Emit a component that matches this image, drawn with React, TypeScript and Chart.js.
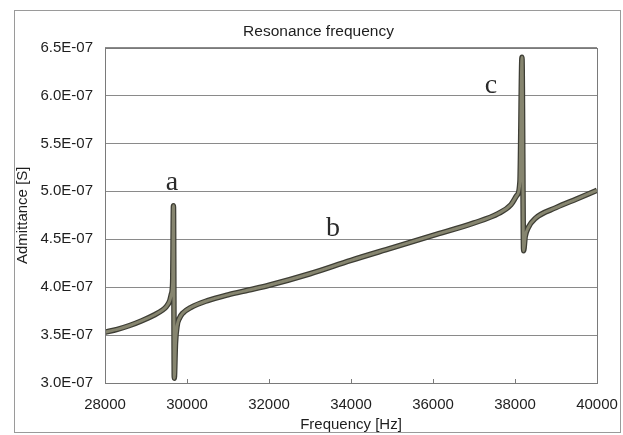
import React, { useEffect, useRef } from "react";
import { Chart, registerables } from "chart.js";

Chart.register(...registerables);

const frequencyHz = [
  28000, 28300, 28600, 28900, 29200, 29400, 29500, 29580, 29620, 29650, 29670, 29690, 29720, 29760,
  29820, 29900, 30100, 30500, 31000, 31500, 32000, 33000, 34000, 35000, 36000, 37000, 37600, 37900,
  38050, 38120, 38170, 38210, 38250, 38320, 38500, 39000, 39500, 40000,
];
const admittanceS = [
  3.53e-7, 3.56e-7, 3.6e-7, 3.65e-7, 3.71e-7, 3.76e-7, 3.8e-7, 3.86e-7, 3.93e-7, 4.05e-7, 4.85e-7, 3.05e-7, 3.42e-7, 3.6e-7,
  3.68e-7, 3.73e-7, 3.79e-7, 3.86e-7, 3.92e-7, 3.97e-7, 4.02e-7, 4.14e-7, 4.28e-7, 4.41e-7, 4.54e-7, 4.67e-7, 4.77e-7, 4.86e-7,
  4.96e-7, 5.1e-7, 6.4e-7, 4.38e-7, 4.53e-7, 4.62e-7, 4.72e-7, 4.83e-7, 4.92e-7, 5.01e-7,
];
const xTicks = [28000, 30000, 32000, 34000, 36000, 38000, 40000];
const yTicks = [3.0e-7, 3.5e-7, 4.0e-7, 4.5e-7, 5.0e-7, 5.5e-7, 6.0e-7, 6.5e-7];
const labelTexts = ["a", "b", "c"];
const labelFreqs = [29634, 33560, 37415];
const labelValues = [5.09e-7, 4.61e-7, 6.1e-7];

const chartTitle = "Resonance frequency";
const xTitle = "Frequency [Hz]";
const yTitle = "Admittance [S]";

const points = frequencyHz.map((f, i) => ({ x: f, y: admittanceS[i] }));

const decorPlugin = {
  id: "decor",
  beforeDraw(chart: any) {
    const ctx = chart.ctx;
    ctx.save();
    ctx.fillStyle = "#ffffff";
    ctx.fillRect(0, 0, chart.width, chart.height);
    ctx.strokeStyle = "#9a9a9a";
    ctx.lineWidth = 1;
    ctx.strokeRect(14.5, 10.5, 606, 422);
    ctx.restore();
  },
  afterDatasetsDraw(chart: any) {
    const ctx = chart.ctx;
    const a = chart.chartArea;
    const xs = chart.scales.x;
    const ys = chart.scales.y;
    ctx.save();
    ctx.strokeStyle = "#7a7a7a";
    ctx.lineWidth = 1;
    ctx.strokeRect(Math.round(a.left) + 0.5, Math.round(a.top) + 0.5, Math.round(a.right - a.left), Math.round(a.bottom - a.top));
    ctx.beginPath();
    xTicks.forEach((t) => {
      const px = Math.round(xs.getPixelForValue(t)) + 0.5;
      ctx.moveTo(px, a.bottom);
      ctx.lineTo(px, a.bottom - 4);
    });
    ctx.stroke();
    ctx.fillStyle = "#2a2a2a";
    ctx.font = "28px 'Liberation Serif', serif";
    ctx.textAlign = "center";
    ctx.textBaseline = "middle";
    labelTexts.forEach((t, i) => {
      ctx.fillText(t, xs.getPixelForValue(labelFreqs[i]), ys.getPixelForValue(labelValues[i]));
    });
    ctx.restore();
  },
};

export default function App() {
  const ref = useRef<HTMLCanvasElement>(null);
  useEffect(() => {
    if (!ref.current) return;
    const font = { family: "'Liberation Sans', Arial, sans-serif", size: 15 };
    const chart = new Chart(ref.current, {
      type: "line",
      data: {
        datasets: [
          {
            data: points,
            borderColor: "#86856f",
            borderWidth: 3,
            pointRadius: 0,
            cubicInterpolationMode: "monotone",
            order: 0,
          },
          {
            data: points,
            borderColor: "#3e3e35",
            borderWidth: 5.5,
            pointRadius: 0,
            cubicInterpolationMode: "monotone",
            order: 1,
          },
        ],
      },
      options: {
        animation: false,
        responsive: false,
        maintainAspectRatio: false,
        layout: { padding: { left: 14, right: 0, top: 22, bottom: 1 } },
        plugins: {
          legend: { display: false },
          tooltip: { enabled: false },
          title: {
            display: true,
            text: chartTitle,
            color: "#1e1e1e",
            font: { ...font, size: 15.5, weight: "normal" },
            padding: { top: 0, bottom: 7 },
          },
        },
        scales: {
          x: {
            type: "linear",
            min: 28000,
            max: 40000,
            afterBuildTicks: (s: any) => {
              s.ticks = xTicks.map((v) => ({ value: v }));
            },
            afterFit: (s: any) => {
              s.height = 51;
              s.paddingLeft = 0;
              s.paddingRight = 26;
            },
            ticks: { color: "#1e1e1e", font, padding: 13, maxRotation: 0, callback: (v: any) => String(v) },
            grid: { display: false, drawTicks: false },
            border: { display: false },
            title: { display: true, text: xTitle, color: "#1e1e1e", font, padding: 0 },
          },
          y: {
            min: 3.0e-7,
            max: 6.5e-7,
            afterBuildTicks: (s: any) => {
              s.ticks = yTicks.map((v) => ({ value: v }));
            },
            afterFit: (s: any) => {
              s.width = 91;
              s.paddingTop = 0;
              s.paddingBottom = 0;
            },
            ticks: {
              color: "#1e1e1e",
              font,
              padding: 12,
              callback: (v: any) => (Number(v) * 1e7).toFixed(1) + "E-07",
            },
            grid: { color: "#8a8a8a", lineWidth: 1, drawTicks: false },
            border: { display: false },
            title: { display: true, text: yTitle, color: "#1e1e1e", font, padding: 0 },
          },
        },
      },
      plugins: [decorPlugin],
    } as any);
    return () => chart.destroy();
  }, []);
  return (
    <div style={{ position: "fixed", left: 0, top: 0, width: 623, height: 435 }}>
      <canvas ref={ref} width={623} height={435} style={{ display: "block" }} />
    </div>
  );
}
